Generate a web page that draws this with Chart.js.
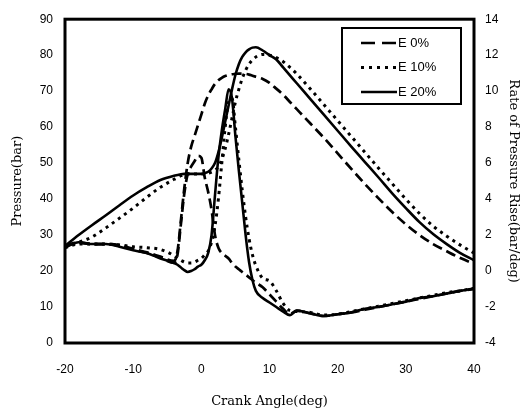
<!DOCTYPE html>
<html>
<head>
<meta charset="utf-8">
<script src="https://cdn.jsdelivr.net/npm/chart.js@4.4.1/dist/chart.umd.min.js"></script>
<style>
html,body{margin:0;padding:0;background:#fff;}
#wrap{width:526px;height:411px;position:relative;}
</style>
</head>
<body>
<div id="wrap"><canvas id="c" width="526" height="411"></canvas></div>
<script>
// Crank angle samples (deg)
const angles = [-20,-18,-16,-14,-12,-10,-8,-6,-4,
  -3.5,-3,-2.5,-2,-1.5,-1,-0.5,0,0.5,1,1.5,2,2.5,3,3.5,4,4.5,5,5.5,6,6.5,7,7.5,8,
  9,10,11,12,13,14,
  16,18,20,22,24,26,28,30,32,34,36,38,40];

// Pressure (bar), left axis
const pressureE0 = [27,27.8,27.5,27.5,27.2,26.2,25.2,24,22.8,
  25.5,34,43,50,54.5,57.5,60.5,63.5,66.5,68.8,70.5,72,73,73.7,74.2,74.5,74.7,74.8,74.9,74.9,74.8,74.6,74.3,74,
  73.4,72.3,70.7,69,67,65,
  61,57,52.7,48.4,44.2,40.2,36.4,33,30,27.5,25.5,23.6,22];
const pressureE10 = [27,28,29.5,32,34.7,37.5,40.5,43.3,45.5,
  46,46.5,46.8,47,47,47,47,47,47,47.2,47.5,48,49,51,54,58,62.5,67,70.5,73.5,75.8,77.5,78.7,79.5,
  80.2,80,79.3,78.2,76.6,74.8,
  70.6,66.2,61.8,57.4,53,48.6,44.3,40,36,32.5,29.7,27.2,25];
const pressureE20 = [27,30,32.8,35.5,38.3,41,43.3,45.3,46.5,
  46.7,46.9,47,47,47,47,47,47,47.2,47.6,48.5,50,53,57,61.5,66,70.5,74.5,77.5,79.5,80.8,81.6,82.1,82.2,
  81.3,80,78.8,76.6,74.4,72.2,
  67.8,63.4,59,54.6,50.3,46,41.6,37.5,33.6,30.3,27.5,25,23];

// Rate of pressure rise (bar/deg), right axis
const rateE0 = [1.4,1.6,1.5,1.5,1.4,1.2,1.0,0.75,0.45,
  0.9,2.6,4.3,5.4,5.8,6.1,6.4,6.3,5.2,4.4,3.4,2.0,1.3,1.0,0.85,0.7,0.45,0.25,0.1,-0.05,-0.2,-0.35,-0.5,-0.65,
  -0.9,-1.3,-1.7,-2.1,-2.4,-2.2,
  -2.35,-2.5,-2.4,-2.3,-2.15,-2.0,-1.85,-1.7,-1.55,-1.4,-1.25,-1.1,-1.0];
const rateE10 = [1.3,1.5,1.5,1.5,1.45,1.35,1.3,1.2,0.85,
  0.7,0.6,0.5,0.45,0.45,0.5,0.6,0.7,0.9,1.1,1.6,2.5,4.0,6.0,8.0,9.4,9.6,8.0,6.2,4.5,3.0,1.8,0.9,0.3,
  -0.4,-0.55,-1.1,-1.8,-2.2,-2.25,
  -2.3,-2.45,-2.4,-2.25,-2.1,-1.95,-1.8,-1.65,-1.5,-1.35,-1.2,-1.1,-0.95];
const rateE20 = [1.3,1.6,1.5,1.5,1.35,1.15,1.0,0.7,0.45,
  0.35,0.2,0.05,-0.05,0.0,0.1,0.25,0.35,0.6,1.0,2.0,4.2,6.3,7.8,9.0,10.1,9.6,7.5,5.6,3.8,2.0,0.5,-0.5,-1.1,
  -1.5,-1.75,-2.0,-2.25,-2.45,-2.2,
  -2.35,-2.5,-2.4,-2.3,-2.1,-2.0,-1.85,-1.7,-1.5,-1.4,-1.25,-1.1,-0.97];

const seriesLabels = ['E 0%','E 10%','E 20%'];
const xTicks = [-20,-10,0,10,20,30,40];
const pressureTicks = [0,10,20,30,40,50,60,70,80,90];
const rateTicks = [-4,-2,0,2,4,6,8,10,12,14];

const styles = [
  {dash:[10,5], width:2.7},
  {dash:[3,4.5], width:3},
  {dash:[], width:2.6}
];

function pts(vals){ return angles.map((a,i)=>({x:a,y:vals[i]})); }

const pressures = [pressureE0, pressureE10, pressureE20];
const rates = [rateE0, rateE10, rateE20];
const datasets = [];
for (let i=0;i<3;i++){
  datasets.push({label:seriesLabels[i], data:pts(pressures[i]), yAxisID:'y',
    borderColor:'#000', borderWidth:styles[i].width, borderDash:styles[i].dash,
    pointRadius:0, cubicInterpolationMode:'monotone', fill:false, legendShow:true});
  datasets.push({label:seriesLabels[i]+' rate', data:pts(rates[i]), yAxisID:'y1',
    borderColor:'#000', borderWidth:styles[i].width, borderDash:styles[i].dash,
    pointRadius:0, cubicInterpolationMode:'monotone', fill:false, legendShow:false});
}

const frameAndLegend = {
  id:'frameAndLegend',
  afterDraw(chart){
    const ctx = chart.ctx, a = chart.chartArea;
    ctx.save();
    ctx.strokeStyle = '#000';
    ctx.lineWidth = 3;
    ctx.setLineDash([]);
    ctx.strokeRect(a.left, a.top, a.right - a.left, a.bottom - a.top);
    // legend box
    const bx = 342, by = 28, bw = 119, bh = 76;
    ctx.fillStyle = '#fff';
    ctx.fillRect(bx, by, bw, bh);
    ctx.lineWidth = 2;
    ctx.strokeRect(bx, by, bw, bh);
    const shown = chart.data.datasets.filter(d=>d.legendShow);
    shown.forEach((d,i)=>{
      const y = 43 + i*24.5;
      ctx.beginPath();
      ctx.lineWidth = d.borderWidth;
      ctx.setLineDash(i===0 ? [14,7] : (i===1 ? [3,5] : []));
      ctx.moveTo(361, y); ctx.lineTo(397, y);
      ctx.stroke();
      ctx.setLineDash([]);
      ctx.fillStyle = '#000';
      ctx.font = '13px "Liberation Sans", Arial, sans-serif';
      ctx.textBaseline = 'middle';
      ctx.textAlign = 'left';
      ctx.fillText(d.label, 398, y);
    });
    ctx.restore();
  }
};

const tickFont = {family:'"Liberation Sans", Arial, sans-serif', size:12};
const titleFont = {family:'"DejaVu Serif", serif', size:13};

new Chart(document.getElementById('c'), {
  type:'line',
  data:{datasets},
  options:{
    responsive:false,
    animation:false,
    layout:{padding:{top:16,left:0,right:0,bottom:0}},
    plugins:{legend:{display:false}, tooltip:{enabled:false}},
    scales:{
      x:{type:'linear', min:-20, max:40,
        afterBuildTicks(s){ s.ticks = xTicks.map(v=>({value:v})); },
        afterFit(s){ s.height = 68; },
        grid:{display:false, drawTicks:false},
        border:{display:false},
        ticks:{color:'#000', font:tickFont, padding:19, maxRotation:0, autoSkip:false},
        title:{display:true, text:'Crank Angle(deg)', color:'#000', font:titleFont, padding:{top:0,bottom:2}}
      },
      y:{type:'linear', position:'left', min:0, max:90,
        afterBuildTicks(s){ s.ticks = pressureTicks.map(v=>({value:v})); },
        afterFit(s){ s.width = 65; },
        grid:{display:false, drawTicks:false},
        border:{display:false},
        ticks:{color:'#000', font:tickFont, padding:12, autoSkip:false},
        title:{display:true, text:'Pressure(bar)', color:'#000', font:titleFont, padding:{top:10,bottom:0}}
      },
      y1:{type:'linear', position:'right', min:-4, max:14,
        afterBuildTicks(s){ s.ticks = rateTicks.map(v=>({value:v})); },
        afterFit(s){ s.width = 52; },
        grid:{display:false, drawTicks:false},
        border:{display:false},
        ticks:{color:'#000', font:tickFont, padding:11, autoSkip:false},
        title:{display:true, text:'Rate of Pressure Rise(bar/deg)', color:'#000', font:titleFont, padding:{top:5,bottom:0}}
      }
    }
  },
  plugins:[frameAndLegend]
});
</script>
</body>
</html>
